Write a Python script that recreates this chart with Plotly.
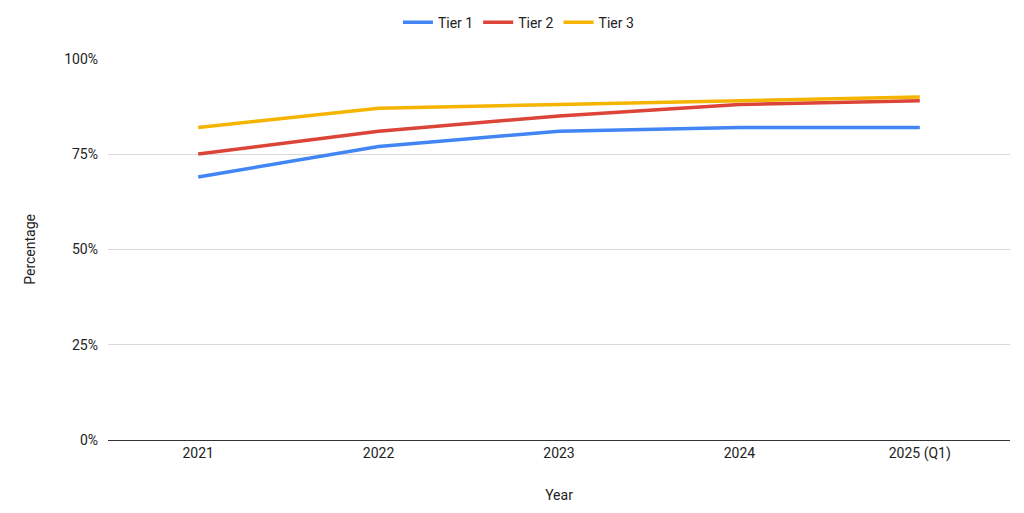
import plotly.graph_objects as go

years = ["2021", "2022", "2023", "2024", "2025 (Q1)"]
tier1 = [0.69, 0.77, 0.81, 0.82, 0.82]
tier2 = [0.75, 0.81, 0.85, 0.88, 0.89]
tier3 = [0.82, 0.87, 0.88, 0.89, 0.90]
series_names = ["Tier 1", "Tier 2", "Tier 3"]
colors = ["#4285F4", "#DB4437", "#F4B400"]

fig = go.Figure()
for name, vals, c in zip(series_names, [tier1, tier2, tier3], colors):
    fig.add_trace(go.Scatter(x=years, y=vals, mode="lines", name=name,
                             line=dict(color=c, width=3.5)))

font = "Roboto, Arial, sans-serif"
fig.update_layout(
    width=1024, height=513,
    margin=dict(l=108, r=14, t=57, b=73),
    paper_bgcolor="white", plot_bgcolor="white",
    font=dict(family=font, size=14, color="#222222"),
    legend=dict(orientation="h", x=0.455, xanchor="center", y=0.987, yanchor="top",
                yref="container", itemwidth=30, font=dict(size=14, color="#222222"),
                traceorder="normal"),
    showlegend=True,
)
fig.update_xaxes(type="category", range=[-0.5, 4.5], showgrid=False,
                 showline=True, linecolor="#333333", linewidth=1,
                 ticks="", tickfont=dict(size=14, color="#222222"),
                 title=dict(text="Year", font=dict(size=14, color="#222222"), standoff=29))
fig.update_yaxes(range=[0, 1], tickvals=[0, 0.25, 0.5, 0.75, 1.0],
                 ticktext=["0%", "25%", "50%", "75%", "100%"],
                 showgrid=True, gridcolor="#d9d9d9", gridwidth=1,
                 zeroline=False, ticks="", ticklabelstandoff=9,
                 tickfont=dict(size=14, color="#222222"),
                 title=dict(text="Percentage", font=dict(size=14, color="#222222"), standoff=25))

fig.write_html("out.html", config={"displayModeBar": False},
               post_script="document.body.style.margin='0';document.body.style.overflow='hidden';")
